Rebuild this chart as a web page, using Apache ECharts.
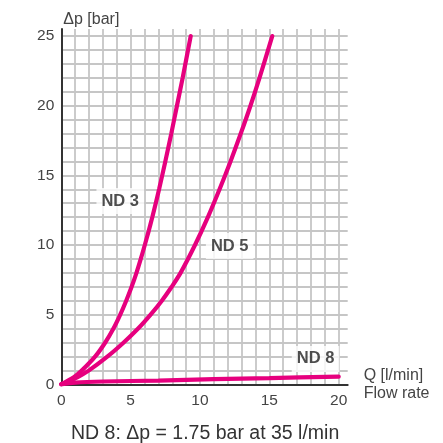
<!DOCTYPE html>
<html>
<head>
<meta charset="utf-8">
<script src="https://cdn.jsdelivr.net/npm/echarts@6/dist/echarts.min.js"></script>
<style>
html,body{margin:0;padding:0;background:#fff;}
#c{width:443px;height:443px;}
</style>
</head>
<body>
<div id="c"></div>
<script>
// Flow rate Q [l/min] and pressure drop Δp [bar]
const nd3Q = [0, 0.9, 1.49, 2.45, 3.17, 3.76, 4.25, 4.68, 5.07, 5.42, 5.73, 6.02, 6.30, 6.56, 6.81, 7.05, 7.50, 7.93, 8.34, 8.75, 9.33];
const nd3P = [0, 0.5, 1, 2, 3, 4, 5, 6, 7, 8, 9, 10, 11, 12, 13, 14, 16, 18, 20, 22, 25];
const nd5Q = [0, 1.15, 2.0, 3.34, 4.50, 5.54, 6.44, 7.25, 7.96, 8.60, 9.64, 10.57, 11.41, 12.2, 12.94, 13.64, 14.29, 15.21];
const nd5P = [0, 0.5, 1, 2, 3, 4, 5, 6, 7, 8, 10, 12, 14, 16, 18, 20, 22, 25];
const nd8Q = [0, 1, 3, 7, 11, 15, 20];
const nd8P = [0, 0.12, 0.2, 0.27, 0.37, 0.45, 0.55];
const curveNames = ['ND 3', 'ND 5', 'ND 8'];
const labelQ = [4.25, 12.14, 18.33];
const labelP = [13.16, 9.93, 1.82];
const xTitle = ['Q [l/min]', 'Flow rate'];
const yTitle = 'Δp [bar]';
const caption = 'ND 8: Δp = 1.75 bar at 35 l/min';

const pairs = (q, p) => q.map((v, i) => [v, p[i]]);
const curveColor = '#e6007e';
const font = 'Liberation Sans, Arial, sans-serif';

const chart = echarts.init(document.getElementById('c'), null, {renderer: 'canvas'});
const lineSeries = (name, q, p) => ({
  name: name, type: 'line', data: pairs(q, p), smooth: 0.3,
  showSymbol: false, symbol: 'none', z: 3,
  lineStyle: {color: curveColor, width: 4.2, cap: 'round'}
});

chart.setOption({
  animation: false,
  backgroundColor: '#fff',
  grid: {left: 61.3, right: 95.3, top: 29.1, bottom: 58.7, containLabel: false},
  title: {
    text: caption, left: 66, top: 419,
    textStyle: {fontFamily: font, fontSize: 19.5, fontWeight: 'normal', color: '#333'}
  },
  xAxis: {
    type: 'value', min: 0, max: 20.65, interval: 1,
    name: xTitle.join('\n'), nameLocation: 'end', nameGap: 16,
    nameTextStyle: {fontFamily: font, fontSize: 16, color: '#444', align: 'left', verticalAlign: 'middle', lineHeight: 18, padding: [20, 0, 0, 0]},
    axisLine: {show: true, onZero: false, lineStyle: {color: '#333', width: 2}},
    axisTick: {show: false},
    axisLabel: {
      fontFamily: font, fontSize: 15.5, color: '#444', margin: 8,
      showMaxLabel: false,
      formatter: v => (v % 5 === 0 ? String(v) : '')
    },
    splitLine: {show: true, showMaxLine: false, showMinLine: false, lineStyle: {color: '#c6c6c6', width: 1.8}}
  },
  yAxis: {
    type: 'value', min: 0, max: 25.5, interval: 1,
    name: yTitle, nameLocation: 'end', nameGap: 2,
    nameTextStyle: {fontFamily: font, fontSize: 16, color: '#444', align: 'left', verticalAlign: 'bottom', padding: [0, 0, 0, 2]},
    axisLine: {show: true, onZero: false, lineStyle: {color: '#333', width: 2}},
    axisTick: {show: false},
    axisLabel: {
      fontFamily: font, fontSize: 15.5, color: '#444', margin: 7,
      showMaxLabel: false,
      formatter: v => (v % 5 === 0 ? String(v) : '')
    },
    splitLine: {show: true, showMaxLine: false, showMinLine: false, lineStyle: {color: '#c6c6c6', width: 1.8}}
  },
  series: [
    lineSeries(curveNames[0], nd3Q, nd3P),
    lineSeries(curveNames[1], nd5Q, nd5P),
    lineSeries(curveNames[2], nd8Q, nd8P),
    {
      type: 'scatter', z: 5, symbolSize: 1, itemStyle: {color: 'rgba(0,0,0,0)'},
      data: curveNames.map((n, i) => ({name: n, value: [labelQ[i], labelP[i]]})),
      label: {
        show: true, position: 'inside', formatter: '{b}',
        fontFamily: font, fontSize: 16.5, fontWeight: 'bold', color: '#222',
        backgroundColor: '#fff', padding: [5, 5, 4, 5]
      }
    }
  ]
});
</script>
</body>
</html>
